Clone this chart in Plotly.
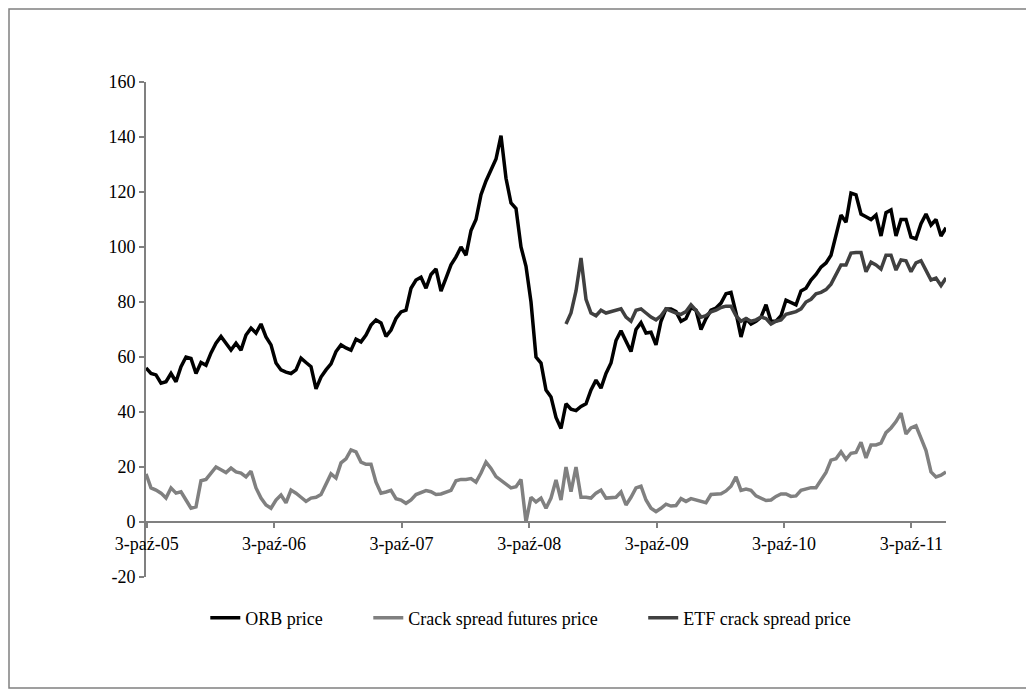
import plotly.graph_objects as go
import pandas as pd

start_date = "2005-10-01"
end_date = "2012-01-10"

orb_price = [56, 54, 53.5, 50.5, 51, 54, 51, 56.5, 60, 59.5,
             54, 58, 57, 61.5, 65, 67.5, 65, 62.5, 65, 62.5,
             68, 70.5, 68.7, 72, 67.3, 64.4, 57.8, 55.3, 54.5, 54,
             55.3, 59.6, 58, 56.5, 48.4, 52.7, 55.3, 57.5, 62, 64.4,
             63.3, 62.5, 66.5, 65.5, 68, 71.6, 73.5, 72.4, 67.5, 69.8,
             74, 76.4, 77, 85, 88, 89, 85, 90, 92, 84,
             88.7, 93.5, 96.4, 100, 97, 106, 110, 119, 124, 128,
             132, 140.5, 125, 116, 114, 100, 93, 80, 60, 57.8,
             48, 45.5, 38, 34, 43, 41, 40.5, 42, 43, 48,
             51.6, 48.7, 54, 57.8, 66, 69.5, 65.5, 62, 70, 72.5,
             68.7, 69, 64.4, 73, 77.5, 77.5, 76.5, 73, 74, 78,
             77, 70, 74, 77, 77.8, 79.6, 83, 83.5, 76, 67.3,
             74, 72, 73, 74.5, 79, 73, 73, 75, 80.7, 80,
             79, 84, 85, 88, 90, 92.7, 94.2, 97, 105, 111.6,
             109, 119.6, 119, 112, 111, 110, 111.6, 104, 112.5, 113.5,
             104, 110, 110, 103.6, 103, 108.5, 112, 108, 110, 104,
             107]

crack_spread = [17.5, 12.4, 11.6, 10.5, 8.7, 12.4, 10.5, 11, 8, 5,
                5.5, 15, 15.5, 18, 20, 19, 18, 19.6, 18.2, 17.8,
                16.4, 18.5, 12.4, 8.7, 6.2, 5, 8, 9.8, 7, 11.6,
                10.5, 9, 7.5, 8.7, 9, 10, 14, 17.5, 16, 21.5,
                23, 26.2, 25.5, 21.8, 21, 21, 14.5, 10.5, 10.9, 11.5,
                8.5, 8, 6.8, 8, 10, 10.8, 11.4, 11, 10, 10.2,
                10.9, 11.5, 15, 15.5, 15.5, 15.8, 14.5, 17.8, 21.8, 19.5,
                16.5, 15, 13.5, 12.4, 12.8, 15.5, 0, 9, 7.3, 8.7,
                5, 8.7, 15.3, 8, 20, 11, 20, 9, 9, 8.7,
                10.5, 11.6, 8.7, 9, 9, 10.9, 6.2, 9, 12.4, 13,
                8, 5, 3.8, 5, 6.5, 5.8, 6, 8.5, 7.5, 8.5,
                8, 7.5, 7, 10, 10, 10.3, 11.3, 13, 16.4, 11.5,
                12, 11.5, 9.5, 8.8, 7.8, 8, 9.3, 10.2, 10.2, 9.3,
                9.5, 11.5, 12, 12.5, 12.5, 15.3, 18, 22.5, 23, 25.5,
                22.8, 25, 25.3, 29, 23.3, 28, 28, 28.7, 32.5, 34.2,
                36.5, 39.6, 32, 34.2, 35, 30.5, 26, 18.2, 16.4, 17,
                18.2]

etf_start_index = 84
etf_crack_spread = [72, 76, 84, 96, 81, 76, 75, 77, 76, 76.4,
                    77, 77.5, 74.5, 73, 77, 77.5, 76, 74.5, 73.5, 75,
                    77.5, 76.7, 76, 75.5, 76.5, 79, 77, 74.5, 75, 76.4,
                    77, 78, 78.5, 78.5, 75, 73, 74, 73, 73.5, 74.5,
                    74, 72, 73, 73.5, 75.5, 76, 76.5, 77.5, 80, 81,
                    83, 83.5, 84.5, 86.5, 90, 93.5, 93.5, 97.8, 98, 98,
                    91, 94.5, 93.5, 92, 97, 97, 91.6, 95.3, 95, 91,
                    94.2, 95, 91.5, 88, 88.7, 86, 88.7]

series_names = ["ORB price", "Crack spread futures price", "ETF crack spread price"]

tick_dates = ["2005-10-03", "2006-10-03", "2007-10-03", "2008-10-03",
              "2009-10-03", "2010-10-03", "2011-10-03"]
tick_labels = ["3-paź-05", "3-paź-06", "3-paź-07", "3-paź-08",
               "3-paź-09", "3-paź-10", "3-paź-11"]
y_tick_values = [-20, 0, 20, 40, 60, 80, 100, 120, 140, 160]
y_tick_labels = ["-20", "0", "20", "40", "60", "80", "100", "120", "140", "160"]

dates = pd.date_range(start_date, end_date, periods=len(orb_price))
pad = "\u00a0" * 9

fig = go.Figure()
fig.add_trace(go.Scatter(x=dates, y=orb_price, mode="lines", name=series_names[0] + pad,
                         line=dict(color="#000000", width=3.5)))
fig.add_trace(go.Scatter(x=dates, y=crack_spread, mode="lines",
                         name=series_names[1] + pad,
                         line=dict(color="#808080", width=3.5)))
fig.add_trace(go.Scatter(x=dates[etf_start_index:], y=etf_crack_spread, mode="lines",
                         name=series_names[2],
                         line=dict(color="#404040", width=3.5)))

font_family = "Liberation Serif, Times New Roman, serif"

fig.update_layout(
    width=1026, height=687,
    margin=dict(l=138, r=88, t=74, b=118),
    paper_bgcolor="white", plot_bgcolor="white",
    font=dict(family=font_family, size=18, color="black"),
    showlegend=True,
    legend=dict(orientation="h", x=0.481, xanchor="center", y=-0.083, yanchor="middle",
                font=dict(family=font_family, size=18, color="black"),
                bgcolor="rgba(0,0,0,0)"),
    xaxis=dict(type="date", range=[start_date, end_date],
               tickvals=tick_dates, ticktext=tick_labels,
               showgrid=False, zeroline=False,
               showline=True, linecolor="#808080", linewidth=2,
               ticks="outside", ticklen=5, tickcolor="#808080", tickwidth=1.5,
               anchor="free", position=20/180,
               tickfont=dict(family=font_family, size=18, color="black")),
    yaxis=dict(range=[-20, 160], tickvals=y_tick_values, ticktext=y_tick_labels,
               showgrid=False, zeroline=False,
               showline=True, linecolor="#808080", linewidth=2,
               ticks="outside", ticklen=5, tickcolor="#808080", tickwidth=1.5,
               tickfont=dict(family=font_family, size=18, color="black")),
    shapes=[dict(type="rect", xref="paper", yref="paper",
                 x0=-0.17125, x1=1.10125, y0=-0.2242, y1=1.1475,
                 line=dict(color="#808080", width=1.5), fillcolor="rgba(0,0,0,0)",
                 layer="below")],
)

fig.write_html("out.html")
